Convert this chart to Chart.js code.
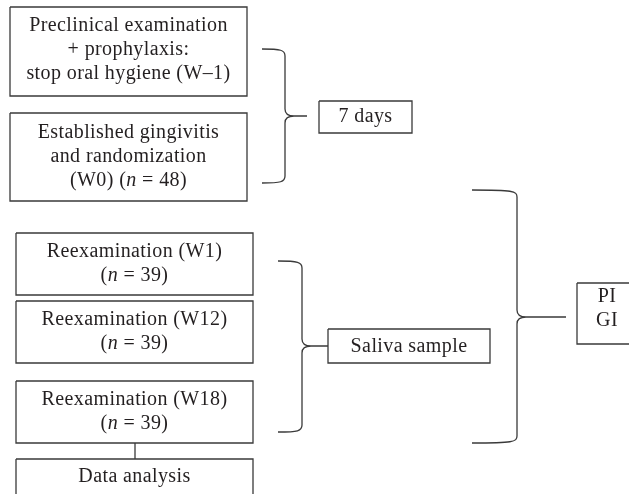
<!DOCTYPE html>
<html lang="en">
<head>
  <meta charset="UTF-8" />
  <title>Study flowchart</title>
  <script src="https://cdn.jsdelivr.net/npm/chart.js"></script>
  <style>
    body { margin: 0; background: white; }
    #wrap { width: 629px; height: 494px; }
  </style>
</head>
<body>
  <div id="wrap"><canvas id="flow" width="629" height="494"></canvas></div>

  <script>
    // diagram units = pixels of the original figure (y grows downwards)
    const boxLabels = [
      ["Preclinical examination", "+ prophylaxis:", "stop oral hygiene (W–1)"],
      ["Established gingivitis", "and randomization", "(W0) (*n* = 48)"],
      ["7 days"],
      ["Reexamination (W1)", "(*n* = 39)"],
      ["Reexamination (W12)", "(*n* = 39)"],
      ["Reexamination (W18)", "(*n* = 39)"],
      ["Data analysis"],
      ["Saliva sample"],
      ["PI", "GI"]
    ];
    const boxLeft   = [10, 10, 319, 16, 16, 16, 16, 328, 577];
    const boxRight  = [247, 247, 412, 253, 253, 253, 253, 490, 637];
    const boxTop    = [7, 113, 101, 233, 301, 381, 459, 329, 283];
    const boxBottom = [96, 201, 133, 295, 363, 443, 505, 363, 344];
    const textMid   = [50, 157, 117, 264, 332, 412, 477, 347, 309];

    // braces: arm end x, spine x, tip x, top y, middle y, bottom y
    const braceArm   = [262, 278, 472];
    const braceSpine = [285, 302, 517];
    const braceTip   = [307, 328, 566];
    const braceTop   = [49, 261, 190];
    const braceMid   = [116, 346, 317];
    const braceBot   = [183, 432, 443];

    const linkX = 135, linkFrom = 443, linkTo = 459;

    const ink = '#3a3a3a';
    const textInk = '#231f20';
    const fontSize = 20;
    const lineGap = 24;

    const datasets = boxLabels.map((_, i) => ({
      data: [
        { x: boxLeft[i], y: boxTop[i] },
        { x: boxRight[i], y: boxTop[i] },
        { x: boxRight[i], y: boxBottom[i] },
        { x: boxLeft[i], y: boxBottom[i] },
        { x: boxLeft[i], y: boxTop[i] }
      ],
      showLine: true,
      borderColor: ink,
      borderWidth: 1.3,
      pointRadius: 0,
      tension: 0,
      clip: false
    }));
    datasets.push({
      data: [{ x: linkX, y: linkFrom }, { x: linkX, y: linkTo }],
      showLine: true, borderColor: ink, borderWidth: 1.3, pointRadius: 0, clip: false
    });

    function drawRuns(ctx, line, cx, cy) {
      // *text* is set in italic
      const parts = line.split('*').map((t, k) => ({ t, it: k % 2 === 1 }));
      const fontFor = p => `${p.it ? 'italic ' : ''}${fontSize}px "Liberation Serif", serif`;
      let total = 0;
      parts.forEach(p => { ctx.font = fontFor(p); p.w = ctx.measureText(p.t).width; total += p.w; });
      let x = cx - total / 2;
      parts.forEach(p => {
        ctx.font = fontFor(p);
        ctx.fillText(p.t, x, cy);
        x += p.w;
      });
    }

    const flowPlugin = {
      id: 'flow',
      afterDatasetsDraw(chart) {
        const { ctx, scales: { x, y } } = chart;
        const px = v => x.getPixelForValue(v);
        const py = v => y.getPixelForValue(v);

        ctx.save();
        ctx.strokeStyle = ink;
        ctx.lineWidth = 1.3;
        for (let i = 0; i < braceArm.length; i++) {
          const a = px(braceArm[i]), s = px(braceSpine[i]), t = px(braceTip[i]);
          const top = py(braceTop[i]), mid = py(braceMid[i]), bot = py(braceBot[i]);
          const r = 7;
          ctx.beginPath();
          ctx.moveTo(a, top);
          ctx.bezierCurveTo(s - 4, top, s, top + 1, s, top + r);
          ctx.lineTo(s, mid - r);
          ctx.bezierCurveTo(s, mid - 2, s + 3, mid, s + r + 2, mid);
          ctx.lineTo(t, mid);
          ctx.moveTo(s + r + 2, mid);
          ctx.bezierCurveTo(s + 3, mid, s, mid + 2, s, mid + r);
          ctx.lineTo(s, bot - r);
          ctx.bezierCurveTo(s, bot - 1, s - 4, bot, a, bot);
          ctx.stroke();
        }

        ctx.fillStyle = textInk;
        ctx.textAlign = 'left';
        ctx.textBaseline = 'middle';
        ctx.letterSpacing = '0.4px';
        boxLabels.forEach((lines, i) => {
          const cx = px((boxLeft[i] + boxRight[i]) / 2);
          const start = textMid[i] - (lines.length - 1) * lineGap / 2;
          lines.forEach((line, k) => drawRuns(ctx, line, cx, py(start + k * lineGap)));
        });
        ctx.restore();
      }
    };

    new Chart(document.getElementById('flow'), {
      type: 'scatter',
      data: { datasets },
      options: {
        responsive: false,
        animation: false,
        layout: { padding: 0 },
        plugins: { legend: { display: false }, tooltip: { enabled: false } },
        scales: {
          x: { type: 'linear', min: 0, max: 629, display: false },
          y: { type: 'linear', min: 0, max: 494, reverse: true, display: false }
        }
      },
      plugins: [flowPlugin]
    });
  </script>
</body>
</html>
